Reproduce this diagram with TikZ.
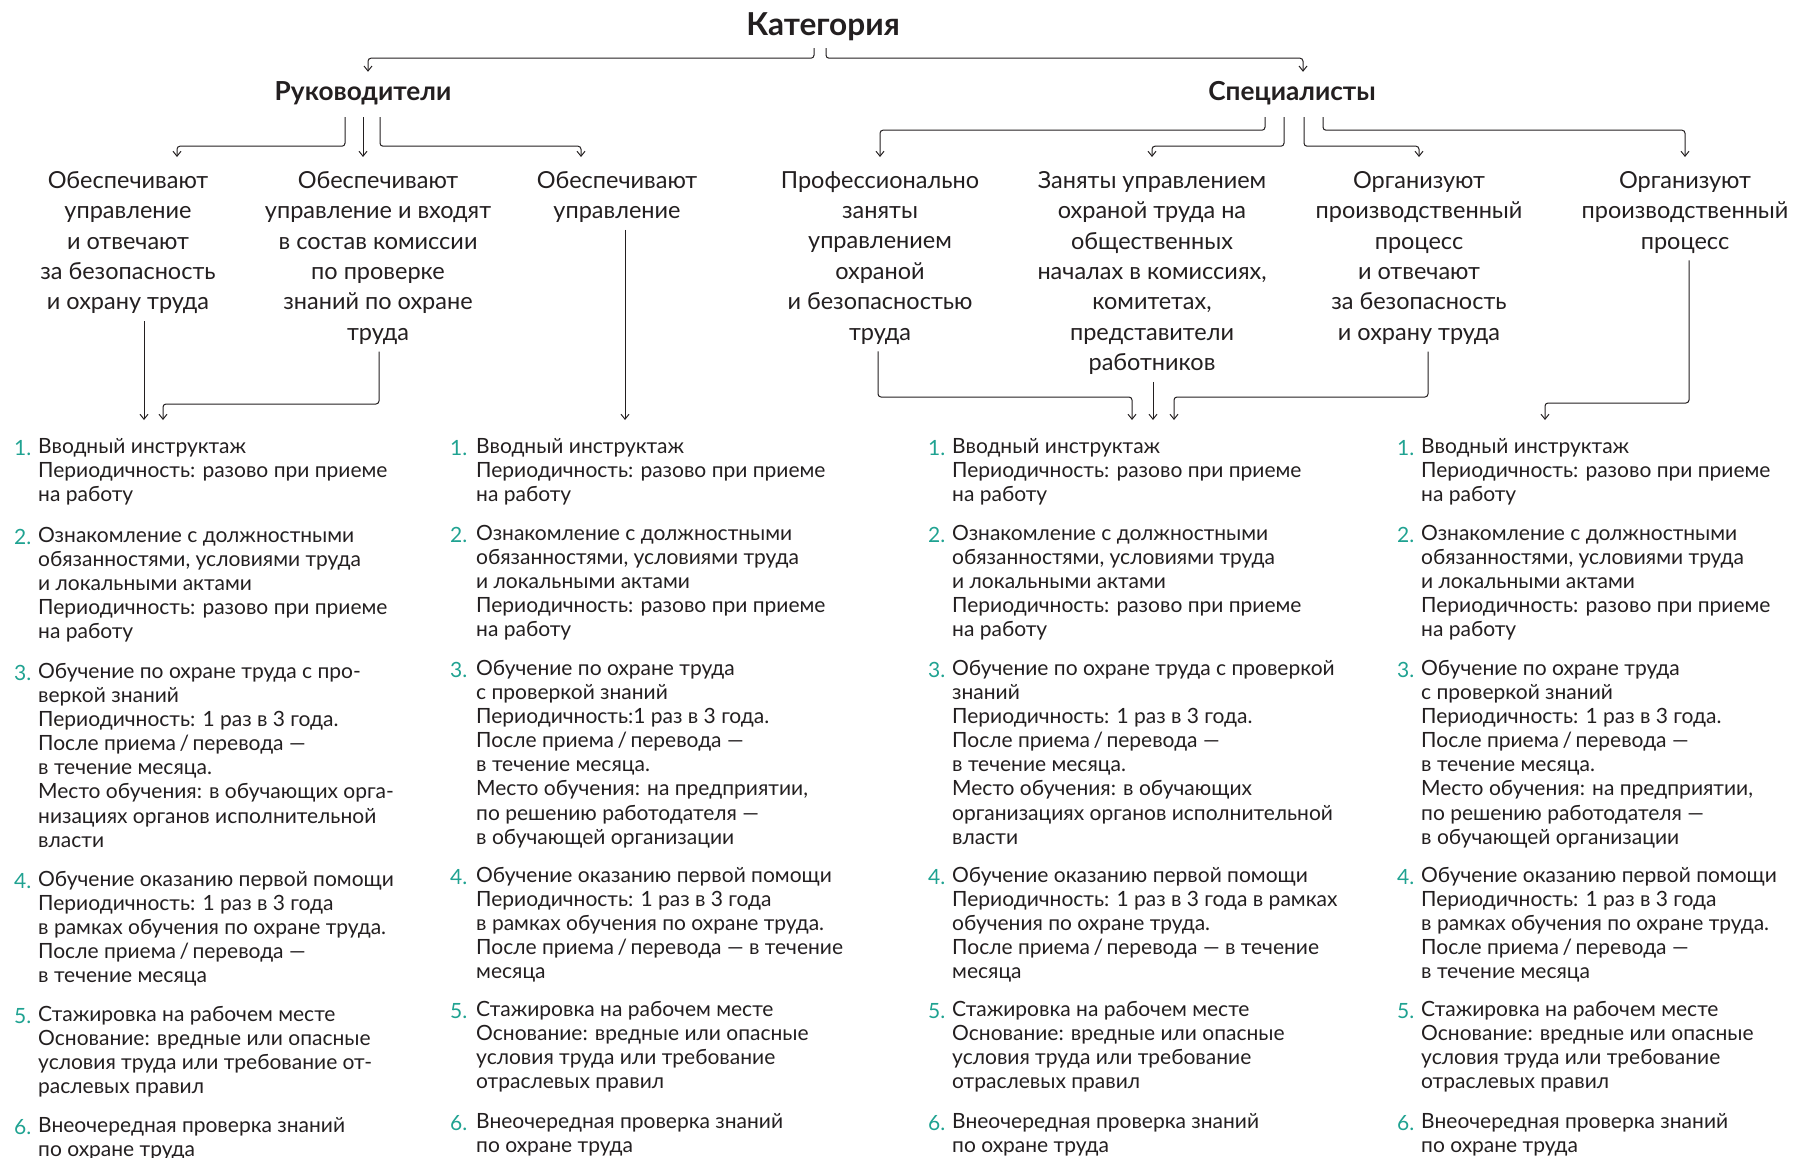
\documentclass[tikz,border=0pt]{standalone}
\usepackage{fontspec}
\setmainfont{Lato}
\usetikzlibrary{arrows.meta}
\definecolor{ink}{HTML}{231F20}
\definecolor{numteal}{HTML}{1FA291}
\tikzset{
  head/.style={font=\bfseries\fontsize{26.2}{32}\selectfont, text height=20pt, text depth=9pt, inner xsep=0pt, inner ysep=8pt, anchor=base},
  role/.style={font=\fontsize{23.5}{30.4}\selectfont, align=center, inner xsep=0pt, inner ysep=7pt, anchor=north},
  itm/.style={font=\fontsize{21}{24.1}\selectfont, align=left, inner sep=0pt, anchor=north west, execute at begin node={\rule{0pt}{17pt}}},
  num/.style={font=\fontsize{21}{24.1}\selectfont, text=numteal, inner sep=0pt, anchor=base west},
  link/.style={draw=ink, line width=1pt, rounded corners=3pt, -{Straight Barb[length=5pt,width=8pt]}},
}
\begin{document}
\begin{tikzpicture}[x=1pt,y=1pt,text=ink]
\useasboundingbox (0,0) rectangle (1797,-1157);

% tree heads
\node[head, font=\bfseries\fontsize{31.6}{36}\selectfont, text height=23pt, text depth=7pt, inner ysep=6pt] (kat) at (823,-35) {Категория};
\node[head] (ruk) at (363,-100) {Руководители};
\node[head] (spec) at (1292,-100) {Специалисты};

% who does what
\node[role] (ob1) at (128,-164) {Обеспечивают\\управление\\и отвечают\\за безопасность\\и охрану труда};
\node[role] (ob2) at (378,-164) {Обеспечивают\\управление и входят\\в состав комиссии\\по проверке\\знаний по охране\\труда};
\node[role] (ob3) at (617,-164) {Обеспечивают\\управление};
\node[role] (pr1) at (880,-164) {Профессионально\\заняты\\управлением\\охраной\\и безопасностью\\труда};
\node[role] (pr2) at (1152,-164) {Заняты управлением\\охраной труда на\\общественных\\началах в комиссиях,\\комитетах,\\представители\\работников};
\node[role] (pr3) at (1419,-164) {Организуют\\производственный\\процесс\\и отвечают\\за безопасность\\и охрану труда};
\node[role] (pr4) at (1685,-164) {Организуют\\производственный\\процесс};

% where the lists start
\coordinate (in1a) at (144,-420);
\coordinate (in1b) at (163,-420);
\coordinate (in2) at (625,-420);
\coordinate (in3a) at (1132,-420);
\coordinate (in3b) at (1153,-420);
\coordinate (in3c) at (1174,-420);
\coordinate (in4) at (1545,-420);

% connectors
\draw[link] ([xshift=-9pt]kat.south) -- ++(0,-10) -| ([xshift=5pt]ruk.north);
\draw[link] ([xshift=3pt]kat.south) -- ++(0,-10) -| ([xshift=11pt]spec.north);
\draw[link] ([xshift=-18pt]ruk.south) -- ++(0,-29) -| ([xshift=49pt,yshift=7pt]ob1.north);
\draw[link] (ruk.south) -- ([yshift=7pt]ob2.north -| ruk.south);
\draw[link] ([xshift=17pt]ruk.south) -- ++(0,-29) -| ([xshift=-36pt,yshift=7pt]ob3.north);
\draw[link] ([xshift=-27pt]spec.south) -- ++(0,-13) -| ([yshift=7pt]pr1.north);
\draw[link] ([xshift=-8pt]spec.south) -- ++(0,-29) -| ([yshift=7pt]pr2.north);
\draw[link] ([xshift=12pt]spec.south) -- ++(0,-29) -| ([yshift=7pt]pr3.north);
\draw[link] ([xshift=31pt]spec.south) -- ++(0,-13) -| ([yshift=7pt]pr4.north);

\draw[link] ([xshift=16pt]ob1.south) -- (in1a);
\draw[link] ([xshift=1pt]ob2.south) |- ([yshift=16pt]in1b) -- (in1b);
\draw[link] ([xshift=8pt]ob3.south) -- (in2);
\draw[link] ([xshift=-2pt]pr1.south) |- ([yshift=23pt]in3a) -- (in3a);
\draw[link] ([xshift=1pt]pr2.south) -- (in3b);
\draw[link] ([xshift=9pt]pr3.south) |- ([yshift=23pt]in3c) -- (in3c);
\draw[link] ([xshift=4pt]pr4.south) |- ([yshift=17pt]in4) -- (in4);

% numbers
\foreach \k/\y in {1/455,2/544,3/680,4/888,5/1023,6/1134}
  \node[num] (a\k) at (14,-\y) {\k.};
\foreach \x/\c in {450/b,928/c,1397/d}
  \foreach \k/\y in {1/455,2/542,3/677,4/884,5/1018,6/1130}
    \node[num] (\c\k) at (\x,-\y) {\k.};

% column 1
\node[itm] (t11) at (38,-438) {Вводный инструктаж\\Периодичность: разово при приеме\\на работу};
\node[itm] (t12) at (38,-527) {Ознакомление с должностными\\обязанностями, условиями труда\\и локальными актами\\Периодичность: разово при приеме\\на работу};
\node[itm] (t13) at (38,-663) {Обучение по охране труда с про-\\веркой знаний\\Периодичность: 1 раз в 3 года.\\После приема\,/\,перевода —\\в течение месяца.\\Место обучения: в обучающих орга-\\низациях органов исполнительной\\власти};
\node[itm] (t14) at (38,-871) {Обучение оказанию первой помощи\\Периодичность: 1 раз в 3 года\\в рамках обучения по охране труда.\\После приема\,/\,перевода —\\в течение месяца};
\node[itm] (t15) at (38,-1006) {Стажировка на рабочем месте\\Основание: вредные или опасные\\условия труда или требование от-\\раслевых правил};
\node[itm] (t16) at (38,-1117) {Внеочередная проверка знаний\\по охране труда};

% column 2
\node[itm] (t21) at (476,-438) {Вводный инструктаж\\Периодичность: разово при приеме\\на работу};
\node[itm] (t22) at (476,-525) {Ознакомление с должностными\\обязанностями, условиями труда\\и локальными актами\\Периодичность: разово при приеме\\на работу};
\node[itm] (t23) at (476,-660) {Обучение по охране труда\\с проверкой знаний\\Периодичность:1 раз в 3 года.\\После приема\,/\,перевода —\\в течение месяца.\\Место обучения: на предприятии,\\по решению работодателя —\\в обучающей организации};
\node[itm] (t24) at (476,-867) {Обучение оказанию первой помощи\\Периодичность: 1 раз в 3 года\\в рамках обучения по охране труда.\\После приема\,/\,перевода — в течение\\месяца};
\node[itm] (t25) at (476,-1001) {Стажировка на рабочем месте\\Основание: вредные или опасные\\условия труда или требование\\отраслевых правил};
\node[itm] (t26) at (476,-1113) {Внеочередная проверка знаний\\по охране труда};

% column 3
\node[itm] (t31) at (952,-438) {Вводный инструктаж\\Периодичность: разово при приеме\\на работу};
\node[itm] (t32) at (952,-525) {Ознакомление с должностными\\обязанностями, условиями труда\\и локальными актами\\Периодичность: разово при приеме\\на работу};
\node[itm] (t33) at (952,-660) {Обучение по охране труда с проверкой\\знаний\\Периодичность: 1 раз в 3 года.\\После приема\,/\,перевода —\\в течение месяца.\\Место обучения: в обучающих\\организациях органов исполнительной\\власти};
\node[itm] (t34) at (952,-867) {Обучение оказанию первой помощи\\Периодичность: 1 раз в 3 года в рамках\\обучения по охране труда.\\После приема\,/\,перевода — в течение\\месяца};
\node[itm] (t35) at (952,-1001) {Стажировка на рабочем месте\\Основание: вредные или опасные\\условия труда или требование\\отраслевых правил};
\node[itm] (t36) at (952,-1113) {Внеочередная проверка знаний\\по охране труда};

% column 4
\node[itm] (t41) at (1421,-438) {Вводный инструктаж\\Периодичность: разово при приеме\\на работу};
\node[itm] (t42) at (1421,-525) {Ознакомление с должностными\\обязанностями, условиями труда\\и локальными актами\\Периодичность: разово при приеме\\на работу};
\node[itm] (t43) at (1421,-660) {Обучение по охране труда\\с проверкой знаний\\Периодичность: 1 раз в 3 года.\\После приема\,/\,перевода —\\в течение месяца.\\Место обучения: на предприятии,\\по решению работодателя —\\в обучающей организации};
\node[itm] (t44) at (1421,-867) {Обучение оказанию первой помощи\\Периодичность: 1 раз в 3 года\\в рамках обучения по охране труда.\\После приема\,/\,перевода —\\в течение месяца};
\node[itm] (t45) at (1421,-1001) {Стажировка на рабочем месте\\Основание: вредные или опасные\\условия труда или требование\\отраслевых правил};
\node[itm] (t46) at (1421,-1113) {Внеочередная проверка знаний\\по охране труда};
\end{tikzpicture}
\end{document}
